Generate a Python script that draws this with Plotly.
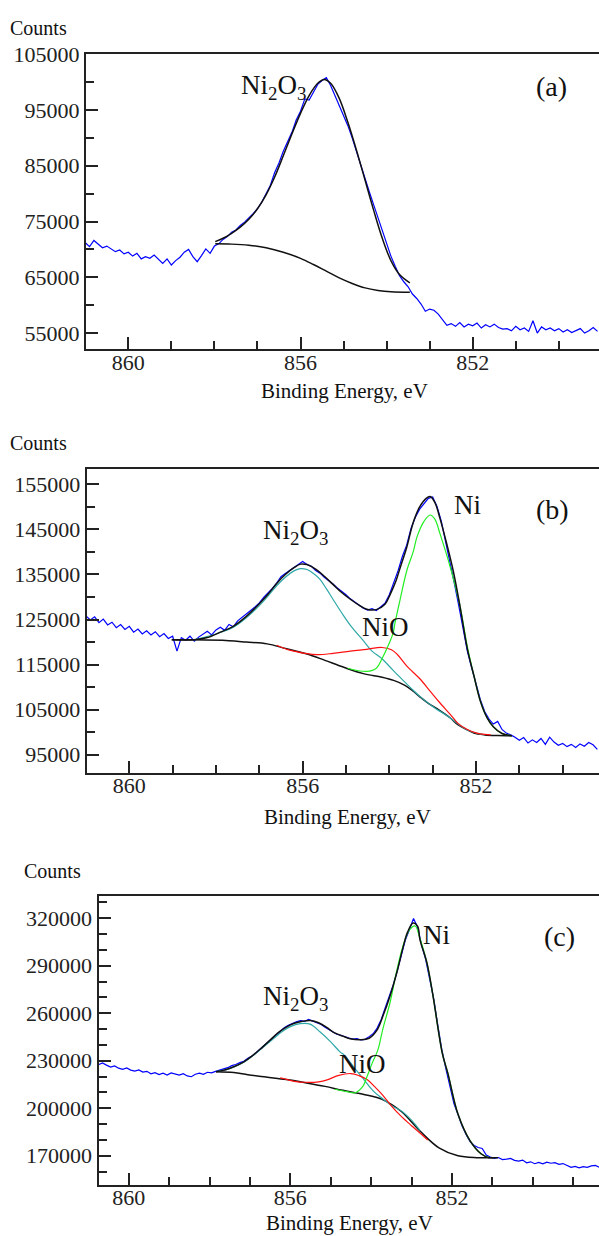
import plotly.graph_objects as go

# ---------------- Panel (a) ----------------
A_RAW_E = [861.0, 860.9, 860.8, 860.7, 860.6, 860.5, 860.4, 860.3, 860.2, 860.1,
           860.0, 859.9, 859.8, 859.7, 859.6, 859.5, 859.4, 859.3, 859.2, 859.1,
           859.0, 858.9, 858.8, 858.7, 858.6, 858.5, 858.4, 858.3, 858.2, 858.1,
           858.0, 857.9, 857.8, 857.7, 857.6, 857.5, 857.4, 857.3, 857.2, 857.1,
           857.0, 856.9, 856.8, 856.7, 856.6, 856.5, 856.4, 856.3, 856.2, 856.1,
           856.0, 855.9, 855.8, 855.7, 855.6, 855.5, 855.4, 855.3, 855.2, 855.1,
           855.0, 854.9, 854.8, 854.7, 854.6, 854.5, 854.4, 854.3, 854.2, 854.1,
           854.0, 853.9, 853.8, 853.7, 853.6, 853.5, 853.4, 853.3, 853.2, 853.1,
           853.0, 852.9, 852.8, 852.7, 852.6, 852.5, 852.4, 852.3, 852.2, 852.1,
           852.0, 851.9, 851.8, 851.7, 851.6, 851.5, 851.4, 851.3, 851.2, 851.1,
           851.0, 850.9, 850.8, 850.7, 850.6, 850.5, 850.4, 850.3, 850.2, 850.1,
           850.0, 849.9, 849.8, 849.7, 849.6, 849.5, 849.4, 849.3, 849.2, 849.1]
A_RAW_C = [71200, 70500, 71600, 71000, 70300, 70600, 70100, 69600, 69900, 69200,
           69500, 68800, 69300, 68300, 68700, 68400, 69000, 68200, 67500, 68300,
           67200, 68000, 68600, 69500, 70000, 68700, 67800, 68900, 70100, 69300,
           70600, 71000, 71800, 72300, 73100, 73500, 74300, 74900, 75600, 76400,
           77300, 78500, 80000, 81500, 83800, 85500, 87600, 89300, 91000, 93200,
           94800, 97000, 96800, 98200, 99600, 100300, 100800, 99400, 97600, 96000,
           94300, 92200, 90000, 87500, 85300, 82800, 80300, 78000, 75600, 73200,
           71000, 68800, 67000, 65300, 64200, 63300, 62000, 61200, 60200, 58900,
           59300, 59100, 58400, 57300, 56400, 56700, 56200, 56900, 56100, 56600,
           56300, 56800, 55900, 56500, 56100, 56600, 56000, 55700, 55800, 55400,
           56200, 55600, 55900, 55300, 57200, 55000, 56100, 55600, 55900, 55400,
           55800, 55200, 55600, 55100, 55500, 55800, 55000, 55400, 56000, 55300]
A_ENV_E = [857.98, 857.8, 857.6, 857.4, 857.2, 857.0, 856.8, 856.6, 856.4, 856.2,
           856.0, 855.8, 855.6, 855.45, 855.3, 855.1, 854.9, 854.7, 854.5, 854.3,
           854.1, 853.9, 853.7, 853.46]
A_ENV_C = [71400, 72000, 72900, 74000, 75400, 77300, 79800, 83000, 86800, 90700,
           94400, 97600, 99800, 100500, 99800, 97100, 92800, 87800, 82400, 77000,
           72000, 68000, 65500, 64000]
A_BG_E = [857.98, 857.6, 857.2, 856.8, 856.4, 856.0, 855.7, 855.4, 855.1, 854.8,
          854.5, 854.2, 853.9, 853.46]
A_BG_C = [71000, 70950, 70750, 70300, 69500, 68400, 67300, 66100, 64900, 63900,
          63100, 62650, 62400, 62300]

# ---------------- Panel (b) ----------------
B_RAW_E = [861.0, 860.9, 860.8, 860.7, 860.6, 860.5, 860.4, 860.3, 860.2, 860.1,
           860.0, 859.9, 859.8, 859.7, 859.6, 859.5, 859.4, 859.3, 859.2, 859.1,
           859.0, 858.9, 858.8, 858.7, 858.6, 858.5, 858.4, 858.3, 858.2, 858.1,
           858.0, 857.9, 857.8, 857.7, 857.6, 857.5, 857.4, 857.3, 857.2, 857.1,
           857.0, 856.9, 856.8, 856.7, 856.6, 856.5, 856.4, 856.3, 856.2, 856.1,
           856.0, 855.9, 855.8, 855.7, 855.6, 855.5, 855.4, 855.3, 855.2, 855.1,
           855.0, 854.9, 854.8, 854.7, 854.6, 854.5, 854.4, 854.3, 854.2, 854.1,
           854.0, 853.9, 853.8, 853.7, 853.6, 853.5, 853.4, 853.3, 853.2, 853.1,
           853.0, 852.9, 852.8, 852.7, 852.6, 852.5, 852.4, 852.3, 852.2, 852.1,
           852.0, 851.9, 851.8, 851.7, 851.6, 851.5, 851.4, 851.3, 851.2, 851.1,
           851.0, 850.9, 850.8, 850.7, 850.6, 850.5, 850.4, 850.3, 850.2, 850.1,
           850.0, 849.9, 849.8, 849.7, 849.6, 849.5, 849.4, 849.3, 849.2]
B_RAW_C = [125800, 124900, 125600, 124300, 125100, 123800, 124400, 123200, 123900, 122800,
           123500, 122200, 122900, 121800, 122500, 121600, 122300, 121200, 121900, 120800,
           121300, 118000, 121000, 120400, 121300, 120200, 121100, 121700, 122400, 121600,
           122700, 123300, 122600, 123900, 123400, 124700, 125400, 126200, 127000, 127800,
           128700, 129900, 130800, 131900, 133100, 134500, 135200, 135900, 136400, 137100,
           137900, 137200, 136800, 135900, 135300, 134400, 133700, 132900, 132000, 131300,
           130500, 129600, 128900, 128200, 127500, 127100, 127400, 127000, 127700, 128600,
           130500, 133000, 135800, 139000, 141500, 145200, 147700, 149500, 150800, 151900,
           152200, 150100, 146800, 142400, 137500, 133000, 128200, 122800, 118000, 114300,
           111000, 107200, 104600, 102900, 101800, 102400, 100600, 99800, 99400, 98900,
           98200, 98800, 97600, 98300, 97700, 98600, 97300, 98900, 97800, 97100,
           97500, 96800, 97300, 96600, 97400, 96900, 97700, 97200, 96200]
B_ENV_E = [859.02, 858.5, 858.2, 857.9, 857.6, 857.3, 857.0, 856.8, 856.6, 856.4,
           856.2, 856.05, 855.9, 855.7, 855.5, 855.3, 855.1, 854.9, 854.7, 854.52,
           854.3, 854.1, 853.98, 853.85, 853.75, 853.6, 853.45, 853.3, 853.15, 853.06,
           852.95, 852.83, 852.67, 852.53, 852.37, 852.2, 852.05, 851.9, 851.75, 851.6,
           851.4, 851.17]
B_ENV_C = [120500, 120500, 121000, 122200, 123500, 125700, 128500, 130600, 133000, 135000,
           136500, 137300, 137200, 136200, 134600, 132800, 131000, 129500, 128200, 127300,
           127200, 128400, 130600, 133500, 136500, 141000, 146500, 150000, 151900, 152300,
           151000, 147400, 141600, 136000, 128000, 118500, 112600, 106900, 103300, 101200,
           99700, 99200]
B_BG_E = [859.02, 858.5, 857.7, 857.3, 856.82, 856.4, 855.92, 855.5, 855.05, 854.6,
          854.17, 853.9, 853.64, 853.45, 853.29, 853.1, 852.85, 852.6, 852.41, 852.2,
          852.05, 851.8, 851.5, 851.17]
B_BG_C = [120500, 120500, 120300, 120000, 119600, 118600, 117400, 116000, 114400, 113000,
          112200, 111500, 110400, 109100, 107800, 106400, 104900, 103200, 101600, 100500,
          99800, 99400, 99250, 99200]
B_NIO_E = [856.6, 856.3, 855.95, 855.67, 855.3, 854.9, 854.52, 854.17, 853.95, 853.82,
           853.6, 853.29, 853.05, 852.85, 852.6, 852.41, 852.2, 851.98, 851.8, 851.66]
B_NIO_C = [119300, 118200, 117500, 117200, 117500, 118000, 118400, 118800, 118300, 117300,
           114700, 111800, 109000, 106700, 104000, 101900, 100600, 99800, 99500, 99400]
B_NI2O3_E = [858.5, 858.0, 857.6, 857.3, 857.0, 856.8, 856.6, 856.4, 856.2, 856.06,
             855.9, 855.75, 855.6, 855.45, 855.3, 855.1, 854.89, 854.6, 854.4, 854.17,
             853.9, 853.64, 853.45, 853.29, 853.0, 852.6, 852.2, 851.8]
B_NI2O3_C = [120500, 121800, 123300, 125400, 128100, 130200, 132500, 134400, 135800, 136300,
             136100, 135200, 133900, 131800, 129500, 126500, 123600, 120300, 118000, 116300,
             113600, 111100, 109300, 107900, 105700, 103200, 100500, 99400]
B_NI_E = [854.96, 854.52, 854.3, 854.17, 854.0, 853.91, 853.87, 853.75, 853.59, 853.45,
          853.36, 853.2, 853.06, 852.95, 852.83, 852.6, 852.37, 852.2, 852.05, 851.9,
          851.75, 851.6, 851.4, 851.17]
B_NI_C = [114200, 113500, 114200, 116300, 119800, 122100, 124200, 129500, 136100, 140000,
          143400, 146800, 148200, 147300, 144000, 136800, 128000, 119000, 112600, 106900,
          103300, 101200, 99700, 99200]

# ---------------- Panel (c) ----------------
C_RAW_E = [860.75, 860.65, 860.55, 860.45, 860.35, 860.25, 860.15, 860.05, 859.95, 859.85,
           859.75, 859.65, 859.55, 859.45, 859.35, 859.25, 859.15, 859.05, 858.95, 858.85,
           858.75, 858.65, 858.55, 858.45, 858.35, 858.25, 858.15, 858.05, 857.95, 857.85,
           857.75, 857.65, 857.55, 857.45, 857.35, 857.25, 857.15, 857.05, 856.95, 856.85,
           856.75, 856.65, 856.55, 856.45, 856.35, 856.25, 856.15, 856.05, 855.95, 855.85,
           855.75, 855.65, 855.55, 855.45, 855.35, 855.25, 855.15, 855.05, 854.95, 854.85,
           854.75, 854.65, 854.55, 854.45, 854.35, 854.25, 854.15, 854.05, 853.95, 853.85,
           853.75, 853.65, 853.55, 853.45, 853.35, 853.25, 853.15, 853.05, 852.95, 852.85,
           852.75, 852.65, 852.55, 852.45, 852.35, 852.25, 852.15, 852.05, 851.95, 851.85,
           851.75, 851.65, 851.55, 851.45, 851.35, 851.25, 851.15, 851.05, 850.95, 850.85,
           850.75, 850.65, 850.55, 850.45, 850.35, 850.25, 850.15, 850.05, 849.95, 849.85,
           849.75, 849.65, 849.55, 849.45, 849.35, 849.25, 849.15, 849.05, 848.95, 848.85,
           848.75, 848.65, 848.55, 848.45, 848.35]
C_RAW_C = [227500, 228600, 227200, 226000, 226700, 225300, 224600, 225400, 224100, 223500,
           224200, 222800, 223300, 221700, 222500, 221300, 222100, 221000, 222300, 221500,
           220900, 221800, 220400, 219900, 221500, 222100, 221400, 222700, 222300, 223300,
           224000, 224900, 225600, 226900, 227600, 228800, 229600, 231500, 232900, 235000,
           237300, 239600, 242100, 244100, 246600, 248700, 250800, 252300, 253500, 254600,
           255300, 254800, 256100, 255200, 254300, 253100, 251300, 249600, 248400, 246700,
           246100, 245000, 244300, 243600, 243900, 243100, 243500, 245200, 247000, 250600,
           256000, 263500, 270500, 278000, 287000, 297500, 306400, 312800, 319800, 314200,
           303000, 294000, 282000, 269000, 252500, 237000, 225000, 213500, 203000, 196000,
           189000, 183500, 179000, 176500, 175200, 174600, 170500, 169200, 168400, 168900,
           167600, 167900, 168300, 167100, 166700, 167300, 165600, 166200, 165000, 165800,
           164900, 166000, 165300, 165700, 164600, 165100, 163800, 162700, 163300, 162400,
           163100, 162700, 163600, 163900, 162800]
C_ENV_E = [857.84, 857.6, 857.4, 857.15, 856.92, 856.75, 856.5, 856.3, 856.1, 855.9,
           855.7, 855.5, 855.3, 855.1, 854.94, 854.7, 854.52, 854.25, 854.05, 853.85,
           853.71, 853.53, 853.36, 853.2, 853.1, 852.96, 852.85, 852.79, 852.62, 852.47,
           852.24, 852.1, 851.85, 851.55, 851.28, 851.08, 850.98]
C_ENV_C = [223100, 224300, 226200, 229300, 233500, 237200, 243000, 247700, 251200, 253600,
           254900, 255400, 254000, 251000, 248100, 245500, 243900, 243200, 244200, 249500,
           258000, 271000, 286000, 302500, 311000, 316900, 315000, 306300, 291900, 271300,
           235000, 222000, 196300, 179400, 171300, 168800, 168800]
C_BG_E = [857.84, 857.4, 857.05, 856.6, 856.1, 855.6, 855.14, 854.7, 854.2, 853.73,
          853.26, 852.79, 852.32, 851.85, 851.38, 850.86]
C_BG_C = [223100, 222600, 221200, 219700, 218100, 216000, 213800, 211300, 208800, 205600,
          198100, 185600, 175000, 170000, 168800, 168800]
C_NIO_E = [856.25, 856.18, 855.9, 855.61, 855.3, 855.07, 854.8, 854.5, 854.3, 854.1,
           853.9, 853.73, 853.5, 853.26, 853.0, 852.79, 852.6]
C_NIO_C = [219200, 218800, 217000, 216400, 216700, 218100, 220800, 221900, 220600, 218100,
           213300, 208800, 201500, 195000, 189000, 184400, 180000]
C_NI2O3_E = [857.84, 857.5, 857.15, 856.92, 856.6, 856.4, 856.2, 856.0, 855.76, 855.51,
             855.26, 855.0, 854.77, 854.67, 854.4, 854.2, 853.95, 853.73, 853.45, 853.26,
             853.0, 852.79]
C_NI2O3_C = [223100, 225000, 229000, 233200, 240000, 244300, 248500, 251500, 253400, 253100,
             248100, 241900, 235600, 233700, 225000, 218800, 211000, 206300, 201000, 198500,
             192500, 186000]
C_NI_E = [854.9, 854.6, 854.4, 854.2, 854.1, 853.98, 853.83, 853.71, 853.53, 853.36,
          853.21, 853.05, 852.91, 852.8, 852.62, 852.47, 852.24, 852.1, 851.85, 851.55,
          851.28, 851.08]
C_NI_C = [212000, 210500, 209800, 214000, 220000, 228000, 237000, 250000, 266900, 287500,
          302500, 312500, 315000, 308000, 291900, 271300, 235000, 222000, 196300, 179400,
          171300, 168800]

# Axis settings
X_RANGES = [[860.983, 849.066], [860.983, 849.162], [860.748, 848.359]]
Y_RANGES = [[52070, 105000], [90980, 158360], [151875, 333750]]
Y_TICK0 = [55000, 95000, 170000]
Y_DTICK = [10000, 10000, 30000]
Y_MINOR = [5000, 5000, 10000]
PANEL_LABELS = ["(a)", "(b)", "(c)"]

W, H = 599, 1236
# panel pixel boxes: left, top, bottom
BOXES = [(86.0, 42.7, 340.7), (86.7, 461.7, 768.3), (98.5, 893.0, 1184.0)]

BLUE = "#0000FF"
BLACK = "#111111"
RED = "#FF1010"
GREEN = "#22EE22"
TEAL = "#2EA8A8"
AX = "#222222"
FONT = "Liberation Serif"

fig = go.Figure()


def add(x, y, color, width, i, shape="linear"):
    sfx = "" if i == 0 else str(i + 1)
    fig.add_trace(go.Scatter(x=x, y=y, mode="lines",
                             line=dict(color=color, width=width, shape=shape),
                             xaxis="x" + sfx, yaxis="y" + sfx,
                             showlegend=False, hoverinfo="skip"))


# (a)
add(A_RAW_E, A_RAW_C, BLUE, 1.2, 0)
add(A_BG_E, A_BG_C, BLACK, 1.5, 0, "spline")
add(A_ENV_E, A_ENV_C, BLACK, 1.5, 0, "spline")
# (b)
add(B_RAW_E, B_RAW_C, BLUE, 1.2, 1)
add(B_BG_E, B_BG_C, BLACK, 1.5, 1, "spline")
add(B_NI2O3_E, B_NI2O3_C, TEAL, 1.2, 1, "spline")
add(B_NIO_E, B_NIO_C, RED, 1.2, 1, "spline")
add(B_NI_E, B_NI_C, GREEN, 1.2, 1, "spline")
add(B_ENV_E, B_ENV_C, BLACK, 1.5, 1, "spline")
# (c)
add(C_RAW_E, C_RAW_C, BLUE, 1.2, 2)
add(C_BG_E, C_BG_C, BLACK, 1.5, 2, "spline")
add(C_NI2O3_E, C_NI2O3_C, TEAL, 1.2, 2, "spline")
add(C_NIO_E, C_NIO_C, RED, 1.2, 2, "spline")
add(C_NI_E, C_NI_C, GREEN, 1.2, 2, "spline")
add(C_ENV_E, C_ENV_C, BLACK, 1.5, 2, "spline")

layout = dict(width=W, height=H, margin=dict(l=0, r=0, t=0, b=0),
              paper_bgcolor="white", plot_bgcolor="white", showlegend=False)

annotations = []
for i in range(3):
    sfx = "" if i == 0 else str(i + 1)
    left, top, bottom = BOXES[i]
    xd = [left / W, 1.0]
    yd = [1 - bottom / H, 1 - top / H]
    layout["xaxis" + sfx] = dict(
        domain=xd, anchor="y" + sfx, range=X_RANGES[i],
        tickmode="linear", tick0=860, dtick=4,
        showline=True, linecolor=AX, linewidth=2, mirror=True,
        ticks="inside", ticklen=12, tickwidth=2, tickcolor=AX,
        ticklabelstandoff=-8,
        minor=dict(dtick=1, tick0=860, ticks="inside", ticklen=8, tickwidth=2,
                   tickcolor=AX, showgrid=False),
        showgrid=False, zeroline=False,
        tickfont=dict(family=FONT, size=22, color=AX))
    layout["yaxis" + sfx] = dict(
        domain=yd, anchor="x" + sfx, range=Y_RANGES[i],
        tickmode="linear", tick0=Y_TICK0[i], dtick=Y_DTICK[i], tickformat="d",
        showline=True, linecolor=AX, linewidth=2, mirror=False,
        ticks="inside", ticklen=12, tickwidth=2, tickcolor=AX,
        minor=dict(dtick=Y_MINOR[i], tick0=Y_TICK0[i], ticks="inside", ticklen=8,
                   tickwidth=2, tickcolor=AX, showgrid=False),
        showgrid=False, zeroline=False,
        tickfont=dict(family=FONT, size=22, color=AX))


def ann(text, px, py, size, **kw):
    annotations.append(dict(text=text, x=px / W, y=1 - py / H, xref="paper",
                            yref="paper", showarrow=False, xanchor="center",
                            yanchor="middle",
                            font=dict(family=FONT, size=size, color="#111111"), **kw))


# axis titles / counts labels
ann("Counts", 38, 16, 20)
ann("Counts", 38, 435, 20)
ann("Counts", 52, 867, 20)
ann("Binding Energy, eV", 344, 383, 21)
ann("Binding Energy, eV", 347, 813, 21)
ann("Binding Energy, eV", 349, 1223, 21)
# peak labels
ann("Ni<sub>2</sub>O<sub>3</sub>", 273, 76, 27)
ann(PANEL_LABELS[0], 551, 75, 28)
ann("Ni<sub>2</sub>O<sub>3</sub>", 295, 525, 27)
ann("Ni", 467, 498, 27)
ann(PANEL_LABELS[1], 552, 502, 28)
ann("NiO", 385, 621, 27)
ann("Ni<sub>2</sub>O<sub>3</sub>", 295, 996, 27)
ann("Ni", 436, 932, 27)
ann(PANEL_LABELS[2], 559, 934, 28)
ann("NiO", 362, 1062, 27)

layout["annotations"] = annotations
fig.update_layout(**layout)
fig.write_html("out.html",
               config={"displayModeBar": False},
               post_script="document.body.style.margin='0px';"
                           "document.body.style.overflow='hidden';")
